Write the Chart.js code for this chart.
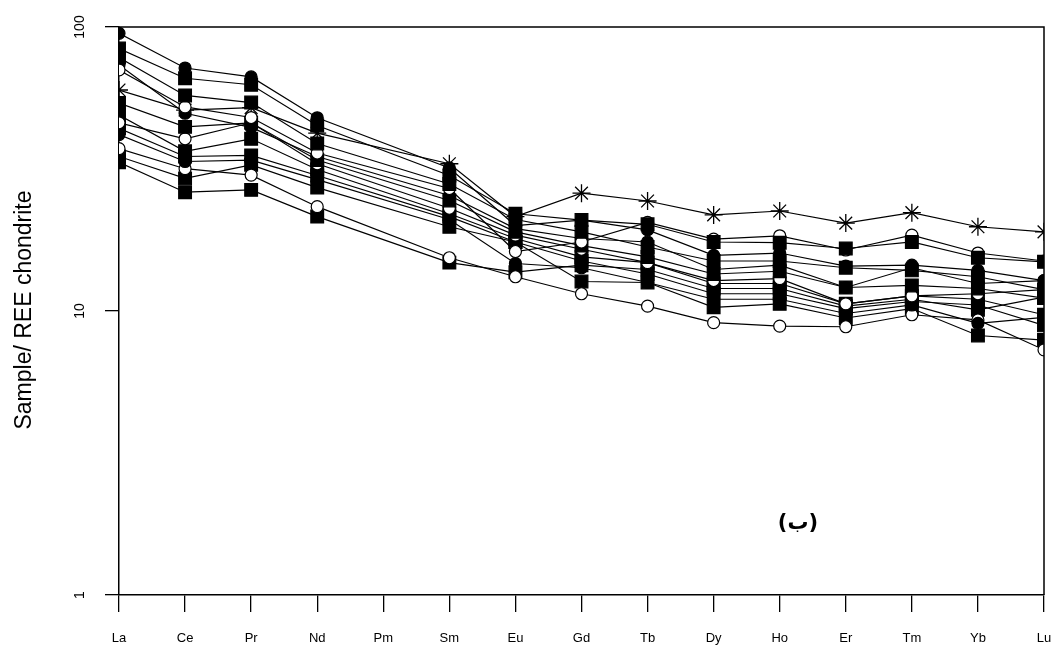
<!DOCTYPE html>
<html>
<head>
<meta charset="utf-8">
<script src="https://cdn.jsdelivr.net/npm/chart.js@4.4.1/dist/chart.umd.min.js"></script>
<style>
  body { margin: 0; background: #fff; }
  #wrap { width: 1056px; height: 650px; }
</style>
</head>
<body>
<div id="wrap"><canvas id="reeChart"></canvas></div>
<script>
// REE elements (Pm has no data, lines jump over it)
const elements = ['La', 'Ce', 'Pr', 'Nd', 'Pm', 'Sm', 'Eu', 'Gd', 'Tb', 'Dy', 'Ho', 'Er', 'Tm', 'Yb', 'Lu'];
const yTicks = [1, 10, 100];

// chondrite-normalised values
const c1  = [95,   71.7, 66.7, 47.9, null, 31.9, 20,   20.9, 19.3, 15.7, 16,   14.4, 14.5, 13.9, 12.8];
const s1  = [84,   66,   62.6, 45,   null, 30,   22,   20.9, 20.2, 17.5, 17.4, 16.6, 17.5, 15.4, 14.9];
const s2  = [78,   57.4, 54.2, 38.9, null, 28,   21,   19,   16.8, 15,   15,   14.2, 13.9, 13.2, 11.9];
const o1  = [70.6, 52.3, 48,   36,   null, 27,   16.2, 17.5, 20.5, 17.9, 18.4, 16.4, 18.5, 16,   15];
const c2  = [73.5, 49.7, 44.3, 35,   null, 25.5, 19.5, 18,   17.5, 14,   14.5, 12.1, 14.2, 12.5, 12.8];
const ast = [60,   51,   52,   42.3, null, 33,   21.5, 26,   24.4, 21.8, 22.5, 20.4, 22.2, 19.8, 19];
const s3  = [54,   44.5, 46,   34,   null, 24.5, 19,   17,   15.5, 13.5, 13.8, 12.1, 12.3, 12,   11.1];
const o2  = [46,   40.4, 46,   33,   null, 23,   18.5, 16.5, 14.8, 12.8, 13,   10.6, 11.3, 11.5, 11.9];
const s4  = [49,   36.5, 40.4, 31.5, null, 22,   18,   15.5, 14.8, 12.5, 12.5, 10.6, 11.3, 11,   9.7];
const s5  = [44,   35,   35.3, 30,   null, 21.5, 17.5, 15,   13.5, 11.5, 11.5, 10.2, 10.8, 10.5, 8.9];
const c3  = [41.8, 33.6, 34,   29,   null, 21,   14.7, 14.2, 12.6, 11,   11,   9.8,  10.5, 9.05, 9.5];
const o3  = [37.3, 31.7, 30.1, 23.3, null, 15.4, 13.2, 11.5, 10.4, 9.1,  8.85, 8.8,  9.7,  9.3,  7.3];
const s6  = [35,   29.3, 32.7, 27.2, null, 19.8, 17.5, 12.7, 12.6, 10.3, 10.6, 9.45, 10.2, 8.2,  7.9];
const s7  = [33.4, 26.2, 26.7, 21.5, null, 14.8, 13.7, 14.5, 14,   12,   12,   10.4, 11,   10.1, 11.2];

function series(data, marker) {
  const base = {
    data,
    borderColor: '#000',
    borderWidth: 1.2,
    tension: 0,
    spanGaps: true,
    clip: 0,
    pointBorderColor: '#000',
    pointBorderWidth: 1.2
  };
  if (marker === 'filledCircle') return { ...base, pointStyle: 'circle', pointRadius: 6, pointBackgroundColor: '#000' };
  if (marker === 'openCircle') return { ...base, pointStyle: 'circle', pointRadius: 6, pointBackgroundColor: '#fff' };
  if (marker === 'square') return { ...base, pointStyle: 'rect', pointRadius: 9, pointBackgroundColor: '#000' };
  return { ...base, pointStyle: 'star', pointRadius: 9, pointBackgroundColor: '#000', pointBorderWidth: 1.3 };
}

const datasets = [
  series(c1, 'filledCircle'),
  series(s1, 'square'),
  series(s2, 'square'),
  series(o1, 'openCircle'),
  series(c2, 'filledCircle'),
  series(ast, 'star'),
  series(s3, 'square'),
  series(o2, 'openCircle'),
  series(s4, 'square'),
  series(s5, 'square'),
  series(c3, 'filledCircle'),
  series(o3, 'openCircle'),
  series(s6, 'square'),
  series(s7, 'square')
];

// frame, rotated y labels, axis title and panel letter
const extras = {
  id: 'extras',
  afterDraw(chart) {
    const { ctx, chartArea: a, scales: { y } } = chart;
    ctx.save();
    ctx.strokeStyle = '#000';
    ctx.lineWidth = 1.5;
    ctx.beginPath();
    ctx.moveTo(a.left, a.top);
    ctx.lineTo(a.right, a.top);
    ctx.lineTo(a.right, a.bottom);
    ctx.stroke();

    ctx.fillStyle = '#000';
    ctx.font = '14px "Liberation Sans", Arial, sans-serif';
    ctx.textAlign = 'center';
    ctx.textBaseline = 'middle';
    yTicks.forEach(v => {
      ctx.save();
      ctx.translate(80, y.getPixelForValue(v));
      ctx.rotate(-Math.PI / 2);
      ctx.fillText(String(v), 0, 0);
      ctx.restore();
    });

    ctx.save();
    ctx.font = '23px "Liberation Sans", Arial, sans-serif';
    ctx.translate(25, 310);
    ctx.rotate(-Math.PI / 2);
    ctx.fillText('Sample/ REE chondrite', 0, 0);
    ctx.restore();

    ctx.font = 'bold 21px "DejaVu Sans", sans-serif';
    ctx.fillText('(ب)', 798, 524);
    ctx.restore();
  }
};

new Chart(document.getElementById('reeChart'), {
  type: 'line',
  data: { labels: elements, datasets },
  options: {
    responsive: true,
    maintainAspectRatio: false,
    animation: false,
    layout: { padding: { top: 27, right: 0, left: 0, bottom: 0 } },
    plugins: { legend: { display: false }, tooltip: { enabled: false } },
    scales: {
      x: {
        type: 'category',
        offset: false,
        afterFit: s => { s.height = 55; s.paddingRight = 12; },
        grid: { offset: false, drawOnChartArea: false, tickLength: 17, color: '#000', lineWidth: 1.3 },
        border: { color: '#000', width: 1.5 },
        ticks: {
          autoSkip: false,
          maxRotation: 0,
          padding: 19,
          color: '#000',
          font: { family: '"Liberation Sans", Arial, sans-serif', size: 13 }
        }
      },
      y: {
        type: 'logarithmic',
        min: 1,
        max: 100,
        afterFit: s => { s.width = 119; },
        afterBuildTicks: s => { s.ticks = yTicks.map(v => ({ value: v })); },
        grid: { drawOnChartArea: false, tickLength: 14, color: '#000', lineWidth: 1.3 },
        border: { color: '#000', width: 1.5 },
        ticks: { display: false }
      }
    }
  },
  plugins: [extras]
});
</script>
</body>
</html>
